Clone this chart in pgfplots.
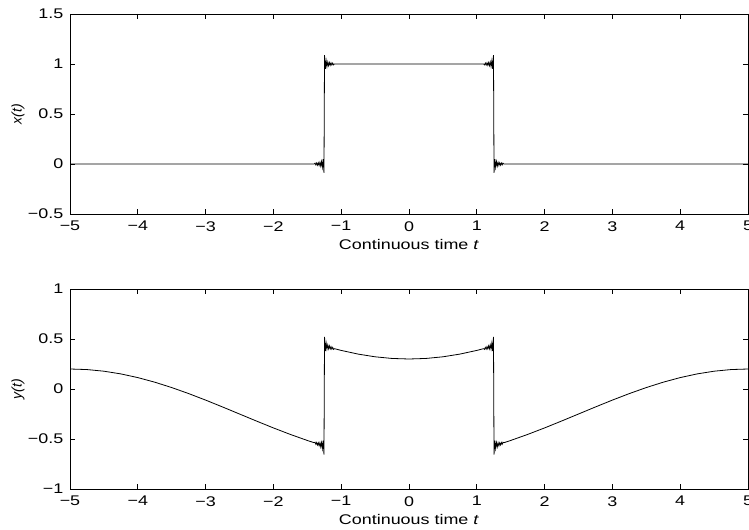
\documentclass[border=0pt]{standalone}
\usepackage{fontspec}
\setmainfont{Liberation Sans}
\usepackage{pgfplots}
\pgfplotsset{compat=1.18}

\newcommand{\lblfont}{\fontsize{10.5}{12}\selectfont}

\pgfplotsset{
  sigaxis/.style={
    scale only axis,
    width=508.5pt, height=150pt,
    xmin=-5, xmax=5,
    axis line style={line width=0.6pt, black},
    every tick/.style={line width=0.6pt, black},
    major tick length=3.75pt,
    tick align=inside,
    xtick pos=both, ytick pos=both,
    xtick={-5,-4,-3,-2,-1,0,1,2,3,4,5},
    xticklabels={−5,−4,−3,−2,−1,0,1,2,3,4,5},
    xticklabel style={font=\lblfont, xscale=1.28, inner sep=0pt, yshift=-5.25pt},
    yticklabel style={font=\lblfont, xscale=1.28, inner sep=0pt, xshift=-3.75pt},
    xlabel style={font=\lblfont, xscale=1.28, at={(axis description cs:0.5,0)}, anchor=center, yshift=-22.5pt},
    ylabel style={font=\lblfont, at={(axis description cs:-0.0767,0.5)}, anchor=center},
    xlabel={Continuous time \textit{t}},
  },
  sigline/.style={black, no markers, line width=0.6pt},
}

\begin{document}
\begin{tikzpicture}
\useasboundingbox (0,0) rectangle (561.75pt,396.75pt);

% input pulse x(t)
\begin{axis}[sigaxis,
  at={(52.5pt,236.25pt)}, anchor=south west,
  ymin=-0.5, ymax=1.5,
  ytick={-0.5,0,0.5,1,1.5},
  yticklabels={−0.5,0,0.5,1,1.5},
  ylabel={\textit{x(t)}},
]
\addplot[sigline] coordinates {
 (-5,0) (-1.4,0)
 (-1.386,0.0086) (-1.374,-0.0093) (-1.362,0.0103) (-1.350,-0.0114)
 (-1.338,0.0128) (-1.326,-0.0146) (-1.314,0.0170) (-1.302,-0.0203)
 (-1.290,0.0252) (-1.278,-0.0331) (-1.266,0.0486) (-1.254,-0.0895)
 (-1.25,0.5)
 (-1.246,1.0895) (-1.234,0.9514) (-1.222,1.0331) (-1.210,0.9748)
 (-1.198,1.0203) (-1.186,0.9830) (-1.174,1.0146) (-1.162,0.9872)
 (-1.150,1.0114) (-1.138,0.9897) (-1.126,1.0093) (-1.114,0.9914)
 (-1.1,1) (1.1,1)
 (1.114,0.9914) (1.126,1.0093) (1.138,0.9897) (1.150,1.0114)
 (1.162,0.9872) (1.174,1.0146) (1.186,0.9830) (1.198,1.0203)
 (1.210,0.9748) (1.222,1.0331) (1.234,0.9514) (1.246,1.0895)
 (1.25,0.5)
 (1.254,-0.0895) (1.266,0.0486) (1.278,-0.0331) (1.290,0.0252)
 (1.302,-0.0203) (1.314,0.0170) (1.326,-0.0146) (1.338,0.0128)
 (1.350,-0.0114) (1.362,0.0103) (1.374,-0.0093) (1.386,0.0086)
 (1.4,0) (5,0)
};
\end{axis}

% output y(t)
\begin{axis}[sigaxis,
  at={(52.5pt,30pt)}, anchor=south west,
  ymin=-1, ymax=1,
  ytick={-1,-0.5,0,0.5,1},
  yticklabels={−1,−0.5,0,0.5,1},
  ylabel={\textit{y(t)}},
]
\addplot[sigline] coordinates {
 (-5,0.2) (-4.75,0.1945) (-4.5,0.1780) (-4.25,0.1510) (-4,0.1141)
 (-3.75,0.0682) (-3.5,0.0145) (-3.25,-0.0457) (-3,-0.1109)
 (-2.75,-0.1796) (-2.5,-0.25) (-2.25,-0.3204) (-2,-0.3891)
 (-1.75,-0.4543) (-1.5,-0.5145) (-1.4,-0.5368)
 (-1.386,-0.5324) (-1.374,-0.5527) (-1.362,-0.5355) (-1.350,-0.5596)
 (-1.338,-0.5378) (-1.326,-0.5676) (-1.314,-0.5384) (-1.302,-0.5781)
 (-1.290,-0.5350) (-1.278,-0.5957) (-1.266,-0.5164) (-1.254,-0.6569)
 (-1.25,-0.0682)
 (-1.246,0.5205) (-1.234,0.3800) (-1.222,0.4593) (-1.210,0.3986)
 (-1.198,0.4417) (-1.186,0.4020) (-1.174,0.4312) (-1.162,0.4014)
 (-1.150,0.4232) (-1.138,0.3991) (-1.126,0.4163) (-1.114,0.3960)
 (-1.1,0.4033) (-1,0.3859) (-0.75,0.3490) (-0.5,0.3220) (-0.25,0.3055)
 (0,0.3)
 (0.25,0.3055) (0.5,0.3220) (0.75,0.3490) (1,0.3859) (1.1,0.4033)
 (1.114,0.3960) (1.126,0.4163) (1.138,0.3991) (1.150,0.4232)
 (1.162,0.4014) (1.174,0.4312) (1.186,0.4020) (1.198,0.4417)
 (1.210,0.3986) (1.222,0.4593) (1.234,0.3800) (1.246,0.5205)
 (1.25,-0.0682)
 (1.254,-0.6569) (1.266,-0.5164) (1.278,-0.5957) (1.290,-0.5350)
 (1.302,-0.5781) (1.314,-0.5384) (1.326,-0.5676) (1.338,-0.5378)
 (1.350,-0.5596) (1.362,-0.5355) (1.374,-0.5527) (1.386,-0.5324)
 (1.4,-0.5368) (1.5,-0.5145) (1.75,-0.4543) (2,-0.3891) (2.25,-0.3204)
 (2.5,-0.25) (2.75,-0.1796) (3,-0.1109) (3.25,-0.0457) (3.5,0.0145)
 (3.75,0.0682) (4,0.1141) (4.25,0.1510) (4.5,0.1780) (4.75,0.1945)
 (5,0.2)
};
\end{axis}
\end{tikzpicture}
\end{document}
